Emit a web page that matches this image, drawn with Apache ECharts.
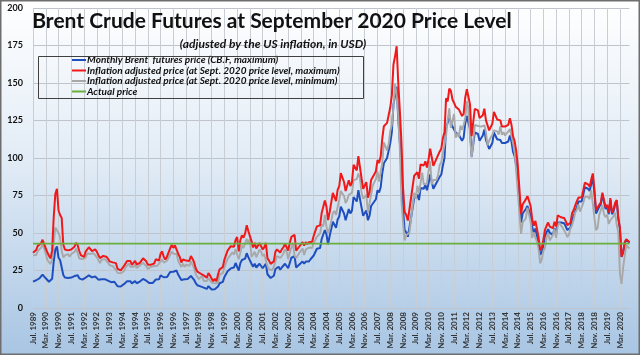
<!DOCTYPE html>
<html><head><meta charset="utf-8">
<script src="https://cdn.jsdelivr.net/npm/echarts@6/dist/echarts.min.js"></script>
<style>html,body{margin:0;padding:0;background:#fff}#c{width:640px;height:355px}</style>
</head><body><div id="c"></div>
<script>
// Monthly categories Jul 1989 .. Sep 2020
const monthNames = ['Jan.','Feb.','Mar.','Apr.','May.','Jun.','Jul.','Aug.','Sep.','Oct.','Nov.','Dec.'];
const startYear = 1989, startMonth = 6, monthCount = 375;
const categories = [];
for (let i = 0; i < monthCount; i++) {
  const k = startMonth + i;
  categories.push(monthNames[k % 12] + ' ' + (startYear + Math.floor(k / 12)));
}

const yTicks = [0, 25, 50, 75, 100, 125, 150, 175, 200];

// Monthly Brent futures price (CB.F, maximum), USD
const brentMax = [
17.6,17.9,18.5,19.8,19.7,20.6,
22.3,21.0,19.8,18.5,17.5,16.7,19.5,31.0,39.0,41.0,33.5,32.0,
31.2,22.0,20.3,20.3,20.0,19.4,20.3,21.0,21.3,22.6,21.8,19.8,
19.0,18.9,18.3,20.2,20.9,21.8,21.2,20.4,20.9,21.0,20.2,18.9,
18.5,19.2,19.3,19.2,19.0,18.2,17.3,17.2,16.9,17.5,16.6,14.5,
15.0,14.3,14.3,15.9,16.6,17.8,18.3,17.9,16.4,16.8,17.9,16.5,
17.3,17.6,17.6,19.4,19.1,18.2,16.9,16.6,16.9,16.6,17.4,19.0,
19.1,19.1,21.8,22.7,20.5,19.5,20.6,21.4,24.0,25.3,24.2,25.2,
25.0,22.3,21.0,18.7,19.9,19.1,19.5,19.4,19.3,21.4,20.3,18.8,
16.6,15.2,14.5,14.4,15.2,13.6,13.0,12.7,14.6,13.6,12.3,11.2,
12.5,11.4,14.3,16.5,16.5,17.4,20.6,21.3,24.5,23.8,26.4,26.6,
27.0,30.0,31.3,25.0,29.9,32.0,31.0,32.9,36.5,33.9,34.5,29.5,
27.5,29.5,27.0,27.5,29.5,29.5,26.5,27.5,29.5,22.5,21.5,20.0,
21.0,21.5,26.0,27.0,27.5,25.5,27.0,28.0,29.5,29.5,26.5,30.0,
33.5,34.0,34.5,27.0,27.5,29.0,29.5,31.0,29.5,31.0,30.0,31.0,
32.5,32.0,35.0,35.0,39.5,38.5,40.0,46.0,46.5,52.0,49.0,42.5,
48.0,48.5,57.5,57.0,53.5,59.0,61.0,67.5,67.0,63.0,58.5,59.5,
66.0,63.0,65.0,74.0,74.5,71.0,78.5,78.0,67.0,61.5,62.0,65.0,
58.5,61.5,68.0,69.0,71.0,72.5,78.5,77.0,80.5,90.0,96.5,97.0,
100.0,100.5,110.0,117.5,135.5,141.5,147.5,126.5,110.5,92.5,66.0,52.0,
50.5,47.5,53.5,54.5,66.5,73.5,72.5,75.5,72.0,80.0,80.0,79.5,
82.0,78.5,83.0,89.0,88.5,79.5,79.5,83.5,82.5,87.5,89.0,95.0,
100.0,120.0,119.0,127.0,126.0,121.0,119.0,117.0,117.0,115.5,115.5,111.5,
113.5,123.0,128.0,123.5,119.5,101.0,109.0,117.0,117.0,116.0,111.5,112.0,
115.0,119.0,112.0,111.5,106.0,106.0,110.0,117.0,117.0,112.5,112.0,112.0,
110.0,111.0,110.0,110.0,111.0,115.0,111.0,104.0,101.0,95.0,86.0,72.0,
57.0,63.0,62.0,66.0,68.0,65.0,62.0,54.0,50.0,53.0,48.0,43.0,
35.5,37.0,42.0,48.0,50.5,52.5,50.0,51.0,49.0,53.0,50.0,57.0,
57.5,57.0,57.0,56.5,54.5,52.0,52.5,53.5,59.5,61.5,64.5,67.0,
71.0,70.0,71.0,75.5,80.5,79.5,79.5,78.0,82.5,86.5,76.5,63.0,
63.0,67.5,69.0,75.5,75.0,66.0,67.5,62.5,72.0,62.5,64.5,69.0,
71.5,59.5,53.0,34.0,37.0,43.5,45.5,46.0,43.5
];

// Inflation adjusted price (Sept. 2020 price level, maximum)
const adjMax = [
36.8,37.4,38.7,41.4,41.2,43.1,
45.5,42.6,39.8,37.0,34.8,33.1,38.4,60.8,76.0,79.5,65.0,62.0,
60.0,42.2,39.0,39.0,38.4,37.2,39.0,40.3,40.9,43.4,41.9,38.0,
35.3,35.2,34.0,37.6,38.9,40.5,39.4,37.9,38.9,39.1,37.6,35.2,
33.3,34.6,34.7,34.6,34.2,32.8,31.1,31.0,30.4,31.5,29.9,26.1,
26.3,25.1,25.1,27.9,29.1,31.3,32.1,31.4,28.8,29.5,31.4,29.0,
29.5,30.1,30.1,33.1,32.6,31.1,28.9,28.4,28.9,28.4,29.7,32.5,
31.7,31.7,36.2,37.7,34.0,32.4,34.2,35.5,39.8,42.0,40.1,41.8,
40.6,36.2,34.1,30.3,32.3,31.0,31.6,31.5,31.3,34.7,32.9,30.5,
26.5,24.3,23.2,23.0,24.3,21.7,20.8,20.3,23.3,21.7,19.6,17.9,
19.5,17.8,22.3,25.8,25.8,27.2,32.2,33.3,38.3,37.2,41.2,41.5,
40.8,45.4,47.3,37.8,45.2,48.4,46.9,49.7,55.2,51.3,52.2,44.6,
40.4,43.4,39.7,40.4,43.4,43.4,39.0,40.4,43.4,33.1,31.6,29.4,
30.4,31.1,37.6,39.1,39.8,36.9,39.1,40.5,42.7,42.7,38.3,43.4,
47.4,48.1,48.8,38.2,38.9,41.0,41.7,43.9,41.7,43.9,42.5,43.9,
44.8,44.1,48.2,48.2,54.4,53.1,55.1,63.4,64.1,71.7,67.5,58.6,
64.0,64.7,76.7,76.0,71.3,78.7,81.3,90.0,89.3,84.0,78.0,79.3,
85.2,81.3,83.9,95.5,96.2,91.7,101.3,100.7,86.5,79.4,80.0,83.9,
73.5,77.2,85.4,86.7,89.2,91.1,98.6,96.7,101.1,113.0,121.2,121.8,
123.4,123.4,133.8,141.9,162.3,167.8,174.5,150.3,131.4,110.8,80.5,64.2,
62.0,58.3,65.5,66.5,80.7,88.2,87.3,90.5,86.2,95.7,95.6,95.0,
97.8,93.7,99.0,106.2,105.6,94.8,94.8,99.6,98.4,104.4,106.2,113.3,
117.2,139.8,137.7,146.3,144.8,139.0,136.7,134.2,134.0,132.4,132.5,128.0,
129.4,140.2,145.9,140.8,135.7,114.6,123.7,132.8,132.8,131.7,126.6,127.1,
128.5,132.9,125.1,124.5,118.4,118.4,122.9,130.7,130.7,125.7,125.1,125.1,
121.0,122.1,121.0,121.0,122.1,126.5,122.1,114.4,111.1,104.5,94.6,79.2,
62.6,69.0,68.0,72.4,74.6,71.3,68.0,59.2,54.8,58.1,52.6,47.1,
38.5,40.1,45.6,52.1,54.8,57.0,54.3,55.3,53.2,57.5,54.3,61.8,
61.1,60.5,60.5,60.0,57.9,55.2,55.8,56.8,63.2,65.3,68.5,71.2,
73.6,72.6,73.6,78.3,83.5,82.4,82.4,80.9,85.6,89.7,79.3,65.3,
64.1,68.7,70.2,76.9,76.4,67.2,68.7,63.6,73.3,63.6,65.7,70.2,
71.9,59.9,53.3,34.2,37.2,43.8,45.8,46.3,43.8
];

// Inflation adjusted price (Sept. 2020 price level, minimum)
const adjMin = [
35.1,33.9,35.3,38.0,38.0,40.1,
42.4,39.6,36.2,32.0,31.4,29.3,32.5,43.1,53.6,54.3,50.0,47.0,
38.0,33.6,35.1,35.5,35.9,34.2,36.1,36.3,37.4,39.6,36.5,33.0,
32.2,32.6,31.6,33.5,36.3,37.6,36.1,35.3,36.5,36.3,33.9,32.6,
29.9,32.2,32.9,32.6,31.9,30.2,28.6,29.0,27.9,28.8,25.4,23.4,
23.7,23.2,22.8,24.6,26.9,28.1,29.7,27.4,26.9,27.4,28.8,26.7,
27.2,28.4,27.8,30.1,30.4,28.0,26.0,26.6,27.5,26.6,28.0,29.0,
28.2,28.9,31.0,32.4,30.2,29.5,31.5,32.8,35.5,37.7,36.2,37.5,
36.0,31.6,29.2,27.4,29.5,27.4,28.9,29.2,28.1,31.0,29.8,26.6,
22.5,21.2,19.2,20.0,21.4,18.0,18.4,18.0,19.8,19.0,16.9,16.5,
16.4,16.0,17.0,22.3,23.0,23.3,26.9,30.1,32.8,32.6,35.6,37.2,
35.5,39.3,35.5,32.5,37.0,41.6,40.1,43.1,46.1,43.1,46.1,34.0,
34.5,37.5,33.8,34.5,39.0,37.5,34.5,36.0,31.6,27.9,25.7,25.7,
25.3,27.5,31.1,34.7,34.0,33.3,34.7,36.2,39.1,37.6,32.6,36.9,
40.3,43.2,34.7,33.3,34.0,36.8,38.2,39.6,35.4,38.9,38.9,40.3,
40.7,40.0,43.4,43.4,47.5,46.2,49.6,55.8,54.4,62.0,54.4,49.6,
53.3,58.0,63.3,64.7,62.0,67.3,72.0,78.0,78.0,74.7,70.0,72.0,
75.5,74.2,76.8,85.2,86.5,85.9,89.7,86.5,76.8,72.9,74.2,75.5,
63.4,69.7,71.0,81.6,82.3,86.0,91.1,84.2,91.1,96.7,110.5,109.3,
104.9,109.3,118.0,122.0,134.2,149.4,142.0,128.9,106.4,71.3,56.7,45.1,
48.5,48.5,50.2,59.2,60.1,76.8,72.8,81.5,76.6,77.2,90.2,82.5,
83.5,82.9,91.3,97.8,82.3,85.3,85.3,85.3,88.9,95.4,97.2,103.2,
109.0,114.8,125.5,133.1,120.1,120.1,129.3,113.6,116.2,114.0,121.6,118.8,
122.0,126.5,137.9,133.4,114.6,100.4,109.5,122.0,122.6,121.4,120.9,120.9,
121.8,121.8,117.3,108.3,111.7,110.6,115.6,118.4,119.5,117.8,115.6,121.2,
115.5,117.2,115.0,115.0,117.7,119.4,114.4,110.0,103.4,90.8,77.0,62.7,
49.4,57.0,58.1,59.8,66.9,65.8,57.6,46.6,50.4,51.0,43.9,39.5,
29.8,32.6,38.0,40.1,47.2,49.9,45.0,45.6,48.8,52.6,46.7,54.8,
56.8,57.9,53.6,53.1,49.9,47.3,48.9,53.1,55.2,58.9,63.7,65.3,
69.0,64.3,64.3,70.0,74.1,73.6,74.1,72.6,78.8,77.8,60.1,51.9,
53.4,62.1,65.2,68.7,62.6,60.6,62.1,56.0,58.5,58.0,61.1,63.6,
55.3,50.3,22.6,16.1,26.7,34.7,41.7,42.3,39.7
];

// Actual price (Sept. 2020)
const actualPrice = 42.9;

const seriesNames = [
  'Monthly Brent  futures price (CB.F, maximum)',
  'Inflation adjusted price (at Sept. 2020 price level, maximum)',
  'Inflation adjusted price (at Sept. 2020 price level, minimum)',
  'Actual price'
];
const seriesColors = ['#1f4fbf', '#f01818', '#a8a8a8', '#6aae3e'];

const FONT = 'Lato, "Open Sans", sans-serif';
const chart = echarts.init(document.getElementById('c'), null, {renderer: 'canvas'});
chart.setOption({
  animation: false,
  backgroundColor: {type: 'linear', x: 0, y: 0, x2: 0, y2: 1,
    colorStops: [{offset: 0, color: '#ffffff'}, {offset: 0.45, color: '#e2ecf6'}, {offset: 1, color: '#a8c5e3'}]},
  textStyle: {fontFamily: FONT},
  title: [
    {text: 'Brent Crude Futures at September 2020 Price Level', left: 267, top: 6, textAlign: 'center',
     textStyle: {fontFamily: FONT, fontSize: 21, fontWeight: 'bold', color: '#111'}},
    {text: '(adjusted by the US inflation, in USD)', left: 268, top: 33, textAlign: 'center',
     textStyle: {fontFamily: FONT, fontSize: 12, fontWeight: 'bold', fontStyle: 'italic', color: '#111'}}
  ],
  legend: {
    data: seriesNames.map((n, i) => ({name: n, icon: 'rect', itemStyle: {color: seriesColors[i]}})),
    orient: 'vertical', left: 72, top: 55,
    itemWidth: 14, itemHeight: 2, itemGap: 0.5, padding: 0,
    textStyle: {fontFamily: FONT, fontSize: 10, fontWeight: 'bold', fontStyle: 'italic', color: '#111', lineHeight: 10, padding: [0,0,0,-4]}
  },
  graphic: [
    {type: 'rect', shape: {x: 38.5, y: 56.5, width: 325, height: 42}, style: {fill: 'none', stroke: '#404040', lineWidth: 1}, z: 10},
    {type: 'rect', shape: {x: 0.75, y: 0.75, width: 638.5, height: 353.5}, style: {fill: 'none', stroke: '#6e6e6e', lineWidth: 1.5}, z: 10}
  ],
  grid: {left: 33, right: 10.5, top: 8, bottom: 47, containLabel: false},
  xAxis: {
    type: 'category', data: categories, boundaryGap: false,
    axisLine: {show: false}, axisTick: {show: false},
    axisLabel: {interval: 7, rotate: 90, fontSize: 8, fontWeight: 'bold', color: '#333', margin: 4, fontFamily: FONT},
    splitLine: {show: true, interval: 7, lineStyle: {color: '#c9cdd4', width: 1}}
  },
  yAxis: {
    type: 'value', min: yTicks[0], max: yTicks[yTicks.length - 1], interval: 25,
    axisLine: {show: false}, axisTick: {show: false},
    axisLabel: {fontSize: 9, fontWeight: 'bold', color: '#111', margin: 10, fontFamily: FONT},
    splitLine: {lineStyle: {color: '#bfc4cc', width: 1}}
  },
  series: [
    {name: seriesNames[0], type: 'line', data: brentMax, symbol: 'none', lineStyle: {color: seriesColors[0], width: 2}, itemStyle: {color: seriesColors[0]}, z: 2},
    {name: seriesNames[1], type: 'line', data: adjMax, symbol: 'none', lineStyle: {color: seriesColors[1], width: 2}, itemStyle: {color: seriesColors[1]}, z: 4},
    {name: seriesNames[2], type: 'line', data: adjMin, symbol: 'none', lineStyle: {color: seriesColors[2], width: 1.9}, itemStyle: {color: seriesColors[2]}, z: 3},
    {name: seriesNames[3], type: 'line', data: [[0, actualPrice], [monthCount - 1, actualPrice]], symbol: 'none', lineStyle: {color: seriesColors[3], width: 1.6}, itemStyle: {color: seriesColors[3]}, z: 5}
  ]
});
</script></body></html>
